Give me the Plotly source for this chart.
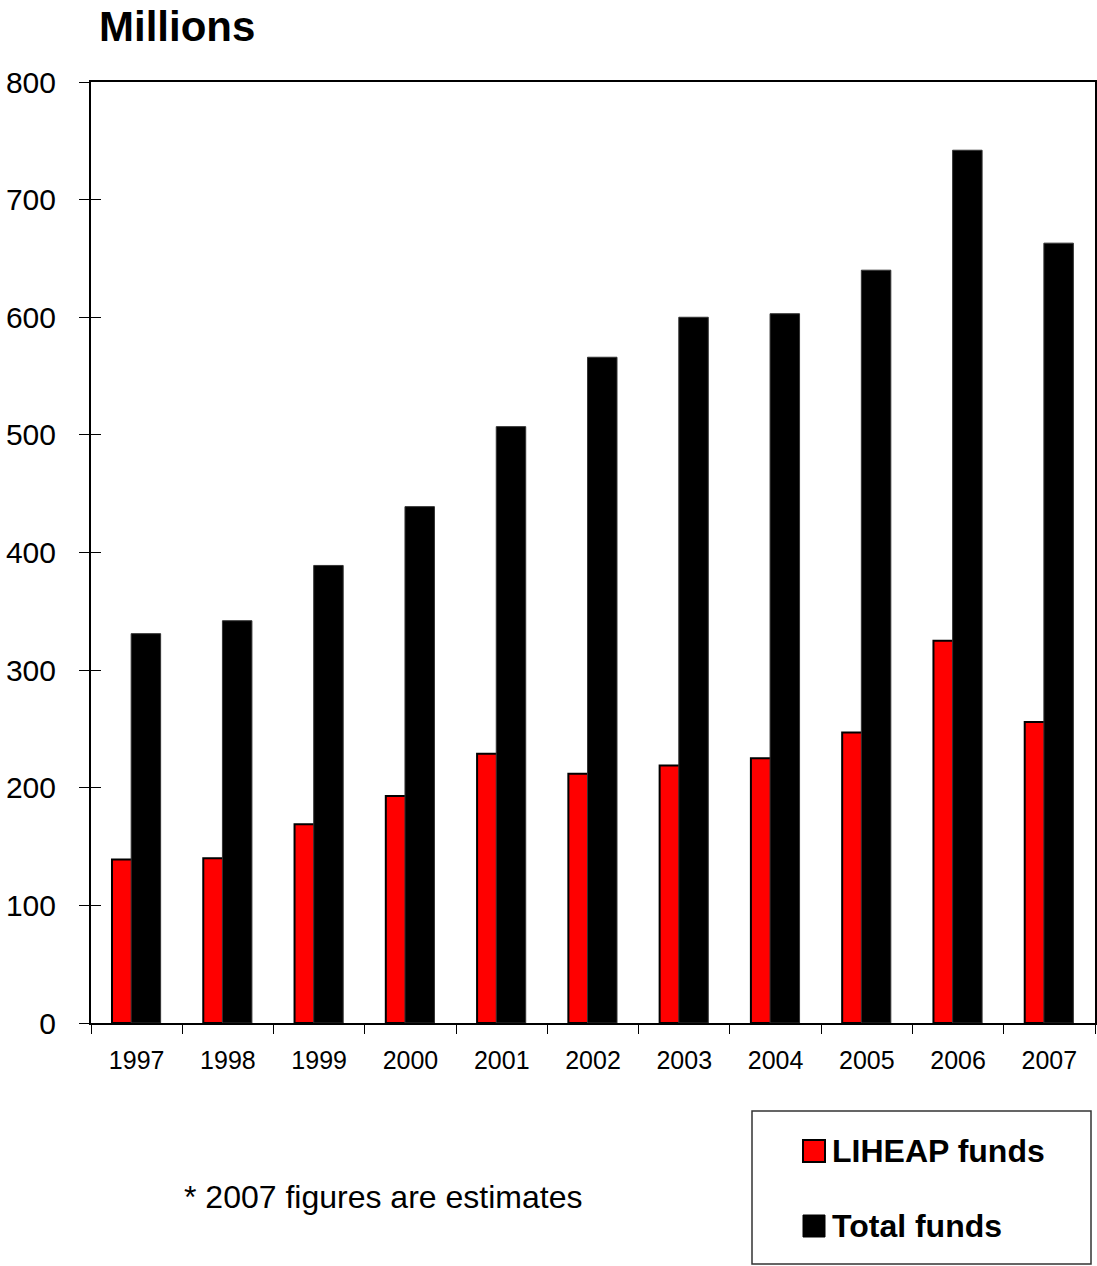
import plotly.graph_objects as go

years = ["1997", "1998", "1999", "2000", "2001", "2002", "2003", "2004", "2005", "2006", "2007"]
liheap = [139, 140, 169, 193, 229, 212, 219, 225, 247, 325, 256]
total = [331, 342, 389, 439, 507, 566, 600, 603, 640, 742, 663]
y_ticks = [0, 100, 200, 300, 400, 500, 600, 700, 800]

FONT = "Liberation Sans, Arial, sans-serif"

fig = go.Figure()
fig.add_trace(go.Bar(x=years, y=liheap, name="LIHEAP funds", width=0.323, offset=-0.27,
                     marker=dict(color="#FF0000", line=dict(color="#000000", width=2)),
                     showlegend=False))
fig.add_trace(go.Bar(x=years, y=total, name="Total funds", width=0.323, offset=-0.06,
                     marker=dict(color="#000000", line=dict(color="#333333", width=1)),
                     showlegend=False))
# invisible trace for second y axis (inside ticks)
fig.add_trace(go.Scatter(x=years, y=total, yaxis="y2", mode="none", showlegend=False, hoverinfo="skip"))

fig.update_layout(
    width=1097, height=1266,
    margin=dict(l=91, r=2, t=82, b=243, autoexpand=False),
    paper_bgcolor="white", plot_bgcolor="white",
    barmode="overlay",
    font=dict(family=FONT, color="black"),
    xaxis=dict(type="category", range=[-0.5, 10.5], showline=True, linecolor="black", linewidth=2,
               mirror=True, ticks="outside", ticklen=9, tickwidth=1, tickcolor="black",
               tickson="boundaries", showgrid=False, tickfont=dict(size=25, family=FONT),
               ticklabelstandoff=14, automargin=False),
    yaxis=dict(range=[0, 800], tickvals=y_ticks, showline=True, linecolor="black", linewidth=2,
               mirror=True, ticks="outside", ticklen=10, tickwidth=1, tickcolor="black",
               showgrid=False, zeroline=False, tickfont=dict(size=30, family=FONT),
               ticklabelstandoff=17, automargin=False),
    yaxis2=dict(range=[0, 800], tickvals=y_ticks, overlaying="y", side="left", showline=False,
                ticks="inside", ticklen=10, tickwidth=1, tickcolor="black", showticklabels=False,
                showgrid=False, zeroline=False, automargin=False),
)

# Title
fig.add_annotation(text="<b>Millions</b>", xref="paper", yref="paper", x=0.006, y=1.0,
                   yshift=56, xanchor="left", yanchor="middle", showarrow=False,
                   font=dict(size=42, family=FONT, color="black"))

def px_x(px):
    return (px - 91) / 1004

def px_y(py):
    return (1023 - py) / 941

# Footnote
fig.add_annotation(text="* 2007 figures are estimates", xref="paper", yref="paper",
                   x=px_x(182), y=px_y(1197), xanchor="left", yanchor="middle",
                   showarrow=False, font=dict(size=32, family=FONT, color="black"))

# Manual legend
fig.add_shape(type="rect", xref="paper", yref="paper", x0=px_x(752), x1=px_x(1091),
              y0=px_y(1264), y1=px_y(1111), line=dict(color="#333333", width=1.5), fillcolor="white")
fig.add_shape(type="rect", xref="paper", yref="paper", x0=px_x(803), x1=px_x(825),
              y0=px_y(1162), y1=px_y(1140), line=dict(color="black", width=2), fillcolor="#FF0000")
fig.add_shape(type="rect", xref="paper", yref="paper", x0=px_x(803), x1=px_x(825),
              y0=px_y(1237), y1=px_y(1215), line=dict(color="black", width=1), fillcolor="#000000")
fig.add_annotation(text="<b>LIHEAP funds</b>", xref="paper", yref="paper", x=px_x(830), y=px_y(1151),
                   xanchor="left", yanchor="middle", showarrow=False,
                   font=dict(size=32, family=FONT, color="black"))
fig.add_annotation(text="<b>Total funds</b>", xref="paper", yref="paper", x=px_x(830), y=px_y(1226),
                   xanchor="left", yanchor="middle", showarrow=False,
                   font=dict(size=32, family=FONT, color="black"))

# remove the default page margin so the figure sits at the window's top-left corner
fig.write_html("out.html", config={"displayModeBar": False},
               post_script="document.body.style.margin='0px';")
